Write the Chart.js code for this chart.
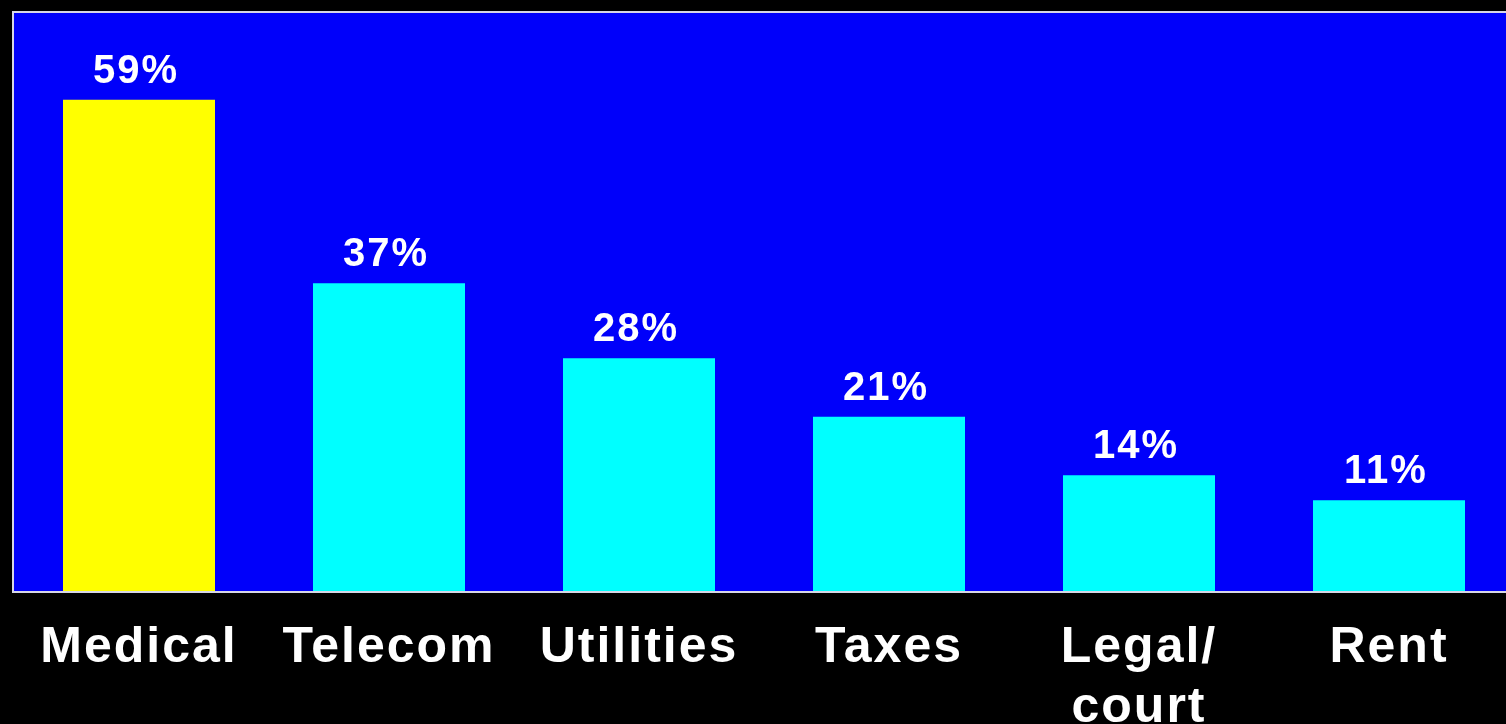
<!DOCTYPE html>
<html>
<head>
<meta charset="utf-8">
<script src="https://cdn.jsdelivr.net/npm/chart.js@4"></script>
<style>
  html, body { margin: 0; padding: 0; background: #000; overflow: hidden; }
  canvas { display: block; }
</style>
</head>
<body>
<canvas id="c" width="1514" height="724"></canvas>
<script>
// Share of respondents by expense category (percent)
const categories = ['Medical', 'Telecom', 'Utilities', 'Taxes', ['Legal/', 'court'], 'Rent'];
const shares = [59, 37, 28, 21, 14, 11];
const barColors = ['#ffff00', '#00ffff', '#00ffff', '#00ffff', '#00ffff', '#00ffff'];

const FONT = '"Liberation Sans", Arial, Helvetica, sans-serif';

// Blue panel behind the bars plus its light frame (left, top, bottom)
const panel = {
  id: 'panel',
  beforeDraw(chart) {
    const { ctx, chartArea: a } = chart;
    ctx.letterSpacing = '2px';
    ctx.save();
    ctx.fillStyle = '#0000fa';
    ctx.fillRect(a.left, a.top, a.right - a.left, a.bottom - a.top);
    ctx.restore();
  },
  afterDatasetsDraw(chart) {
    const { ctx, chartArea: a } = chart;
    ctx.save();
    ctx.strokeStyle = '#d6d6e6';
    ctx.lineWidth = 2;
    ctx.beginPath();
    ctx.moveTo(a.right + 2, a.top);
    ctx.lineTo(a.left - 1, a.top);
    ctx.lineTo(a.left - 1, a.bottom);
    ctx.lineTo(a.right + 2, a.bottom);
    ctx.stroke();
    ctx.restore();
  }
};

// Percentage labels above each bar
const valueLabels = {
  id: 'valueLabels',
  afterDatasetsDraw(chart) {
    const { ctx } = chart;
    const meta = chart.getDatasetMeta(0);
    ctx.save();
    ctx.letterSpacing = '2px';
    ctx.font = 'bold 40px ' + FONT;
    ctx.fillStyle = '#ffffff';
    ctx.textAlign = 'center';
    ctx.textBaseline = 'alphabetic';
    meta.data.forEach((bar, i) => {
      ctx.fillText(shares[i] + '%', bar.x - 3, bar.y - 17);
    });
    ctx.restore();
  }
};

new Chart(document.getElementById('c'), {
  type: 'bar',
  data: {
    labels: categories,
    datasets: [{
      data: shares,
      backgroundColor: barColors,
      borderWidth: 0,
      barPercentage: 0.608,
      categoryPercentage: 1
    }]
  },
  options: {
    responsive: false,
    animation: false,
    devicePixelRatio: 1,
    layout: { padding: { left: 14, top: 12, right: 0, bottom: 0 } },
    plugins: {
      legend: { display: false },
      tooltip: { enabled: false }
    },
    scales: {
      x: {
        grid: { display: false },
        border: { display: false },
        afterFit(scale) { scale.height = 132; },
        ticks: {
          color: '#ffffff',
          padding: 18,
          autoSkip: false,
          maxRotation: 0,
          minRotation: 0,
          font: { family: FONT, size: 50, weight: 'bold', lineHeight: 1.2 }
        }
      },
      y: {
        display: false,
        min: 0,
        max: 69.5
      }
    }
  },
  plugins: [panel, valueLabels]
});
</script>
</body>
</html>
